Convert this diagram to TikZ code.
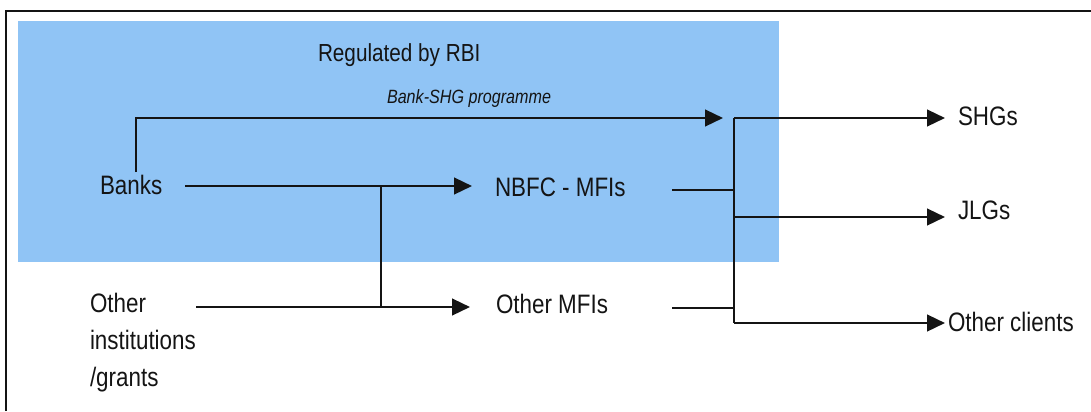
\documentclass[tikz,border=0pt]{standalone}
\usepackage{fontspec}
\setmainfont[FakeStretch=0.84]{Liberation Sans}
\usetikzlibrary{arrows.meta}
\definecolor{rbiblue}{RGB}{144,196,245}
\definecolor{ink}{RGB}{20,20,20}
\tikzset{
  lbl/.style={inner sep=0pt, outer sep=0pt, text=ink, font=\fontsize{20}{28}\selectfont},
  conn/.style={draw=ink, line width=1.8pt},
  arr/.style={conn, -{Triangle[length=13.5pt,width=12.5pt]}},
}
\begin{document}
\begin{tikzpicture}[x=0.75pt,y=-0.75pt]
\useasboundingbox (0,0) rectangle (1091,411);
% frame and regulated zone
\draw[line width=1.5pt, draw=ink] (5.5,411) -- (5.5,10.5) -- (1091,10.5);
\fill[rbiblue] (18,21) rectangle (779,262);

% texts
\node[lbl, anchor=base west, font=\fontsize{18.5}{22}\selectfont] (reg) at (318,61) {Regulated by RBI};
\node[lbl, anchor=base west, font=\fontsize{14.4}{18}\itshape] (bshg) at (387,103) {Bank-SHG programme};
\node[lbl, anchor=west] (banks) at (100,185) {Banks};
\node[lbl, anchor=west] (nbfc) at (495,187) {NBFC - MFIs};
\node[lbl, anchor=west] (omfi) at (496,304) {Other MFIs};
\node[lbl, anchor=north west, align=left] (oinst) at (90,293) {Other\\institutions\\/grants};
\node[lbl, anchor=west] (shg) at (958,116) {SHGs};
\node[lbl, anchor=west] (jlg) at (958,210) {JLGs};
\node[lbl, anchor=west] (ocl) at (948,322) {Other clients};

% connector points
\coordinate (bkout) at (185,186);
\coordinate (bkup) at (136,172);
\coordinate (bkcorner) at (136,118);
\coordinate (shgin) at (723,118);
\coordinate (nbfcin) at (472,186);
\coordinate (oiout) at (196,307);
\coordinate (omfiin) at (470,307);
\coordinate (jA) at (381,186);
\coordinate (jB) at (381,307);
\coordinate (nbfcout) at (672,190);
\coordinate (omfiout) at (672,308);
\coordinate (tTop) at (734,118);
\coordinate (tN) at (734,190);
\coordinate (tJ) at (734,217);
\coordinate (tM) at (734,308);
\coordinate (tBot) at (734,323);
\coordinate (shgtip) at (945,118);
\coordinate (jlgtip) at (945,217);
\coordinate (ocltip) at (945,323);

% connectors
\draw[arr] (bkup) -- (bkcorner) -- (shgin);
\draw[arr] (bkout) -- (nbfcin);
\draw[arr] (oiout) -- (omfiin);
\draw[conn] (jA) -- (jB);
\draw[conn] (nbfcout) -- (tN);
\draw[conn] (omfiout) -- (tM);
\draw[conn] (tTop) -- (tBot);
\draw[arr] (tTop) -- (shgtip);
\draw[arr] (tJ) -- (jlgtip);
\draw[arr] (tBot) -- (ocltip);
\end{tikzpicture}
\end{document}
